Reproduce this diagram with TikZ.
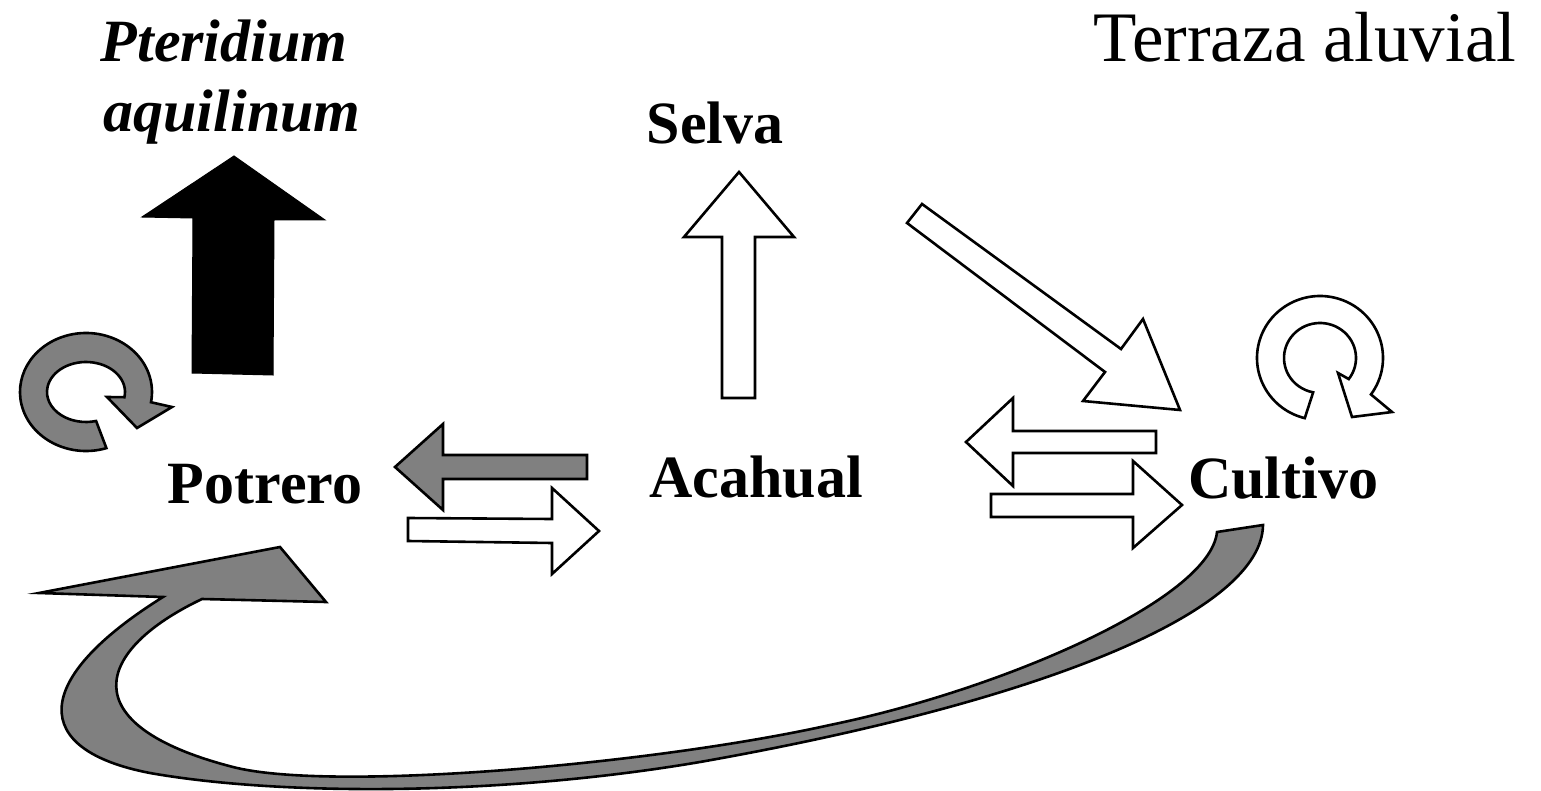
\documentclass[tikz,border=0pt]{standalone}
\usepackage{fontspec}
\setmainfont{Liberation Serif}
\begin{document}
\begin{tikzpicture}[x=1pt,y=-1pt,
  blockw/.style={draw=black,line width=2.6pt,fill=white},
  blockg/.style={draw=black,line width=2.6pt,fill=black!50},
  blockb/.style={draw=black,line width=1pt,fill=black},
  lbl/.style={anchor=base,inner sep=0pt,font=\fontsize{60}{66}\selectfont\bfseries},
  ital/.style={anchor=base,inner sep=0pt,font=\fontsize{60}{66}\selectfont\bfseries\itshape},
  ttl/.style={anchor=base,inner sep=0pt,font=\fontsize{71}{78}\selectfont}]
\useasboundingbox (0,0) rectangle (1541,791);

% texts
\node[ital] (pt) at (224,62) {Pteridium};
\node[ital] (aq) at (232,132) {aquilinum};
\node[lbl] (selva) at (715,144) {Selva};
\node[ttl] (terr) at (1305,62) {Terraza aluvial};
\node[lbl] (potrero) at (265,503) {Potrero};
\node[lbl] (acahual) at (756,497) {Acahual};
\node[lbl] (cultivo) at (1283,498) {Cultivo};

% black up arrow
\draw[blockb] (234,156) -- (325,220) -- (274,220) -- (273,375) -- (192,373) -- (193,218) -- (142,217) -- cycle;

% Selva up arrow
\draw[blockw] (739,172) -- (794,237) -- (755,237) -- (755,398) -- (722,398) -- (722,237) -- (684,237) -- cycle;

% diagonal arrow
\draw[blockw] (922,204) -- (1121,349) -- (1143,319) -- (1180,410) -- (1083,401) -- (1105,372) -- (907,223) -- cycle;

% Potrero <-> Acahual
\draw[blockg] (395,467) -- (443,424) -- (443,455) -- (587,455) -- (587,479) -- (443,479) -- (443,510) -- cycle;
\draw[blockw] (408,518) -- (552,519) -- (552,488) -- (599,531) -- (552,574) -- (552,543) -- (408,541) -- cycle;

% Acahual <-> Cultivo
\draw[blockw] (966,442) -- (1013,398) -- (1013,431) -- (1156,431) -- (1156,453) -- (1013,453) -- (1013,486) -- cycle;
\draw[blockw] (991,494) -- (1133,494) -- (1133,461) -- (1182,505) -- (1133,548) -- (1133,517) -- (991,517) -- cycle;

% left circular arrow (gray)
\draw[blockg] ({86+66*cos(72)},{392+59*sin(72)}) arc[start angle=72,end angle=370,x radius=66,y radius=59]
  -- (172,407) -- (137,428) -- (107,397)
  -- ({86+39*cos(10)},{392+30*sin(10)}) arc[start angle=370,end angle=75,x radius=39,y radius=30] -- cycle;

% right circular arrow (white)
\draw[blockw] ({1320+63*cos(104)},{358+62*sin(104)}) arc[start angle=104,end angle=396,x radius=63,y radius=62]
  -- (1392,412) -- (1352,417) -- (1338,373)
  -- ({1320+36*cos(37)},{358+35*sin(37)}) arc[start angle=397,end angle=101,x radius=36,y radius=35] -- cycle;

% big curved arrow Cultivo -> Potrero
\draw[blockg] (1217,532) -- (1263,525)
  .. controls (1262,610) and (1050,700) .. (700,762)
  .. controls (500,796) and (280,796) .. (150,773)
  .. controls (30,750) and (30,680) .. (163,597)
  -- (39,593) -- (280,547) -- (326,602) -- (202,599)
  .. controls (95,650) and (70,725) .. (233,767)
  .. controls (330,792) and (650,765) .. (830,725)
  .. controls (1000,690) and (1210,600) .. (1217,532) -- cycle;
\end{tikzpicture}
\end{document}
